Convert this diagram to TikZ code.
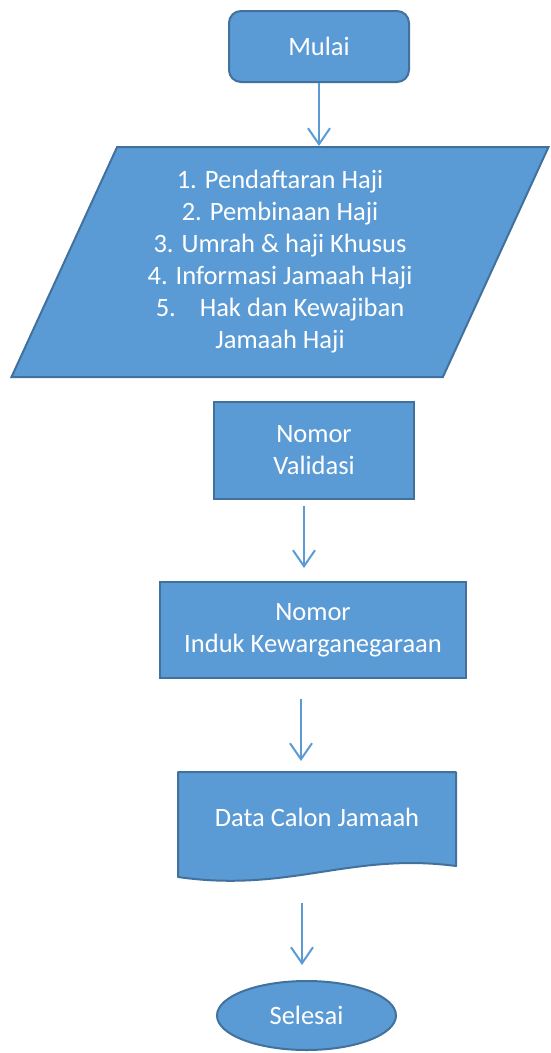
\documentclass[tikz,border=0pt]{standalone}
\usepackage{fontspec}
\setmainfont{Carlito}
\usetikzlibrary{arrows.meta,shapes.geometric}

\definecolor{boxfill}{HTML}{5B9BD5}
\definecolor{boxline}{HTML}{41719C}

\begin{document}
\begin{tikzpicture}[x=1pt,y=-1pt,
    box/.style={fill=boxfill,draw=boxline,line width=2pt,text=white,
        font=\fontsize{26.5}{32}\selectfont,align=center,inner sep=0pt},
    flow/.style={draw=boxfill,line width=2pt,-{Straight Barb[length=16pt,width=22pt,line width=2pt]}}]

\useasboundingbox (0,0) rectangle (550,1053);

% -------- Start --------
\node[box,rounded corners=12pt,minimum width=180pt,minimum height=71pt] (mulai) at (319,46.5) {Mulai};

% -------- Input (menu) --------
\node[box,trapezium,trapezium left angle=60,trapezium right angle=120,
      trapezium stretches body,minimum width=537pt,minimum height=230pt] (menu) at (280,262)
      {1. Pendaftaran Haji\\2. Pembinaan Haji\\3. Umrah \& haji Khusus\\4. Informasi Jamaah Haji\\
       5.\hspace{0.9em}Hak dan Kewajiban\\Jamaah Haji};

% -------- Process --------
\node[box,minimum width=200pt,minimum height=97pt] (validasi) at (314,450.5) {Nomor\\Validasi};
\node[box,minimum width=306pt,minimum height=96pt] (nik) at (313,630) {Nomor\\Induk Kewarganegaraan};

% -------- Document --------
\node[box,fill=none,draw=none,minimum width=276pt,minimum height=89pt] (data) at (317,817.5) {};
\fill[boxfill] (data.north west) -- (data.north east) -- ([yshift=-3pt]data.south east)
    .. controls (350,852) and (290,893) .. ([yshift=-14pt]data.south west) -- cycle;
\draw[boxline,line width=2pt,line join=round] (data.north west) -- (data.north east) -- ([yshift=-3pt]data.south east)
    .. controls (350,852) and (290,893) .. ([yshift=-14pt]data.south west) -- cycle;
\node[text=white,font=\fontsize{26.5}{32}\selectfont] at (data.center) {Data Calon Jamaah};

% -------- End --------
\node[box,ellipse,minimum width=179pt,minimum height=69pt] (selesai) at (306.5,1015.5) {Selesai};

% -------- Arrows --------
\draw[flow] (mulai.south) -- (mulai.south |- menu.north);
\draw[flow,shorten <=6pt,shorten >=13pt] ([xshift=-10pt]validasi.south) -- ([xshift=-10pt]validasi.south |- nik.north);
\draw[flow,shorten <=20pt,shorten >=11pt] ([xshift=-12pt]nik.south) -- ([xshift=-12pt]nik.south |- data.north);
\draw[flow,shorten <=40pt,shorten >=15pt] ([xshift=-15pt]data.south) -- ([xshift=-15pt]data.south |- selesai.north);

\end{tikzpicture}
\end{document}
